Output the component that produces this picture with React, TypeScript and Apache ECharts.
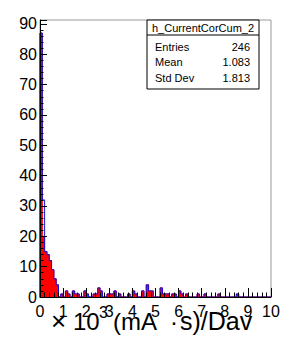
import React, { useEffect, useRef } from "react";
import * as echarts from "echarts";

// Histogram definition: 100 bins from 0 to 10 (×10^3 (mA·s)/Dav)
const X_MIN = 0;
const X_MAX = 10;
const N_BINS = 100;

// Filled (red) histogram contents per bin
const redCounts = [
  87, 20, 15, 14, 12, 9, 6, 4, 0, 1,
  0, 2, 1, 0, 2, 1, 1, 0, 0, 2,
  1, 0, 0, 1, 1, 3, 2, 0, 0, 1,
  1, 1, 2, 0, 1, 0, 0, 0, 1, 0,
  2, 1, 0, 0, 2, 0, 4, 2, 2, 0,
  0, 0, 3, 1, 1, 1, 0, 1, 1, 0,
  2, 1, 0, 1, 0, 0, 0, 0, 1, 0,
  0, 1, 0, 0, 0, 0, 0, 1, 0, 0,
  0, 0, 0, 0, 0, 1, 0, 0, 0, 0,
  0, 0, 0, 0, 0, 0, 0, 0, 0, 0,
];

// Outline (blue) histogram h_CurrentCorCum_2 contents per bin
const blueCounts = [
  87, 32, 15, 14, 12, 9, 6, 4, 0, 1,
  0, 2, 1, 0, 2, 1, 1, 0, 0, 2,
  1, 0, 0, 1, 1, 3, 2, 0, 0, 1,
  1, 1, 2, 0, 1, 0, 0, 0, 1, 0,
  2, 1, 0, 0, 2, 0, 4, 2, 2, 0,
  0, 0, 3, 1, 1, 1, 0, 1, 1, 0,
  2, 1, 0, 1, 0, 0, 0, 0, 1, 0,
  0, 1, 0, 0, 0, 0, 0, 1, 0, 0,
  0, 0, 0, 0, 0, 1, 0, 0, 0, 0,
  0, 0, 0, 0, 0, 0, 0, 0, 0, 0,
];

const histName = "h_CurrentCorCum_2";
const statLabels = ["Entries", "Mean", "Std Dev"];
const statValues = ["246", "1.083", "1.813"];

const Y_MAX = 91.3;
const Y_INTERVAL = 10;
const X_INTERVAL = 1;

const FONT = "'Liberation Sans', Arial, Helvetica, sans-serif";

function stepData(counts: number[]) {
  const w = (X_MAX - X_MIN) / N_BINS;
  const pts: [number, number][] = [[X_MIN, 0]];
  counts.forEach((c, i) => pts.push([X_MIN + i * w, c]));
  pts.push([X_MAX, 0]);
  return pts;
}

export default function App() {
  const ref = useRef<HTMLDivElement>(null);
  useEffect(() => {
    if (!ref.current) return;
    const chart = echarts.init(ref.current, null, { renderer: "svg" });
    const L = 40, T = 20, R = 271, B = 297;
    const boxL = 147, boxR = 259, boxT = 20, boxB = 89;
    chart.setOption({
      animation: false,
      backgroundColor: "#ffffff",
      grid: {
        left: L, top: T, right: 308 - R, bottom: 339 - B,
        show: true, borderColor: "#9a9a9a", borderWidth: 1, backgroundColor: "transparent",
      },
      xAxis: {
        type: "value", min: X_MIN, max: X_MAX, interval: X_INTERVAL, z: 5,
        axisLine: { show: true, onZero: false, lineStyle: { color: "#000", width: 1 } },
        axisTick: { show: true, inside: true, length: 9, lineStyle: { color: "#000", width: 1 } },
        minorTick: { show: true, splitNumber: 5, length: 4.5, lineStyle: { color: "#000", width: 1 } },
        splitLine: { show: false },
        axisLabel: { color: "#000", fontSize: 16, fontFamily: FONT, margin: 6 },
      },
      yAxis: {
        type: "value", min: 0, max: Y_MAX, interval: Y_INTERVAL, z: 5,
        axisLine: { show: true, onZero: false, lineStyle: { color: "#000", width: 1 } },
        axisTick: { show: true, inside: true, length: 7, lineStyle: { color: "#000", width: 1 } },
        minorTick: { show: true, splitNumber: 5, length: 3.5, lineStyle: { color: "#000", width: 1 } },
        splitLine: { show: false },
        axisLabel: {
          color: "#000", fontSize: 16, fontFamily: FONT, margin: 3, showMaxLabel: false,
          formatter: (v: number) => (Math.abs(v % 10) < 1e-6 ? String(v) : ""),
        },
      },
      series: [
        {
          type: "line", step: "end", data: stepData(redCounts), symbol: "none",
          lineStyle: { color: "#ff0000", width: 1 },
          areaStyle: { color: "#ff0000", opacity: 1 },
          z: 2,
        },
        {
          type: "line", step: "end", data: stepData(blueCounts), symbol: "none",
          lineStyle: { color: "#1010e0", width: 1 },
          z: 3,
        },
      ],
      graphic: [
        {
          type: "rect", z: 10,
          shape: { x: boxL, y: boxT, width: boxR - boxL, height: boxB - boxT },
          style: { fill: "#fff", stroke: "#000", lineWidth: 1 },
        },
        {
          type: "line", z: 11,
          shape: { x1: boxL, y1: 35, x2: boxR, y2: 35 },
          style: { stroke: "#000", lineWidth: 1 },
        },
        {
          type: "text", z: 11, x: (boxL + boxR) / 2, y: 28,
          style: { text: histName, fill: "#000", font: `11px ${FONT}`, align: "center", verticalAlign: "middle" },
        },
        ...statLabels.map((s, i) => ({
          type: "text", z: 11, x: 155, y: 47 + i * 15.3,
          style: { text: s, fill: "#000", font: `11px ${FONT}`, align: "left", verticalAlign: "middle" },
        })),
        ...statValues.map((s, i) => ({
          type: "text", z: 11, x: 250, y: 47 + i * 15.3,
          style: { text: s, fill: "#000", font: `11px ${FONT}`, align: "right", verticalAlign: "middle" },
        })),
        {
          type: "text", z: 11, x: 51, y: 334,
          style: { text: "×", fill: "#000", font: `26px ${FONT}`, align: "left", verticalAlign: "bottom" },
        },
        {
          type: "text", z: 11, x: 73, y: 333,
          style: { text: "10", fill: "#000", font: `24px ${FONT}`, align: "left", verticalAlign: "bottom" },
        },
        {
          type: "text", z: 11, x: 99, y: 320,
          style: { text: "3", fill: "#000", font: `16px ${FONT}`, align: "left", verticalAlign: "bottom" },
        },
        {
          type: "text", z: 11, x: 113, y: 333,
          style: { text: "(mA", fill: "#000", font: `24px ${FONT}`, align: "left", verticalAlign: "bottom" },
        },
        {
          type: "text", z: 11, x: 170, y: 333,
          style: { text: "·", fill: "#000", font: `24px ${FONT}`, align: "left", verticalAlign: "bottom" },
        },
        {
          type: "text", z: 11, x: 180, y: 333,
          style: { text: "s)/Dav", fill: "#000", font: `25px ${FONT}`, align: "left", verticalAlign: "bottom" },
        },
      ],
    });
    return () => chart.dispose();
  }, []);
  return (
    <div
      ref={ref}
      style={{ position: "fixed", left: 0, top: 0, width: 308, height: 339, background: "#fff" }}
    />
  );
}
